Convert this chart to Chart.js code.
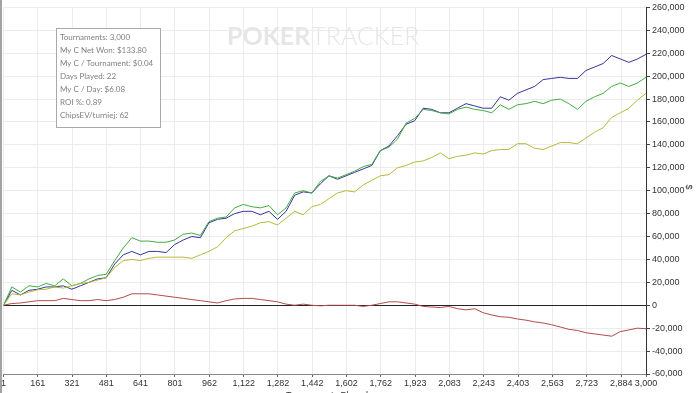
<!DOCTYPE html>
<html>
<head>
<meta charset="utf-8">
<script src="https://cdn.jsdelivr.net/npm/chart.js@4"></script>
<style>
  html, body { margin: 0; padding: 0; background: #fff; overflow: hidden; }
  #wrap { width: 700px; height: 393px; position: relative; }
</style>
</head>
<body>
<div id="wrap"><canvas id="graph"></canvas></div>
<script>
const tournaments = [1,40,80,120,160,200,240,280,320,360,400,440,480,520,560,600,640,680,720,760,
  800,840,880,920,960,1000,1040,1080,1120,1160,1200,1240,1280,1320,1360,1400,1440,1480,1520,1560,
  1600,1640,1680,1720,1760,1800,1840,1880,1920,1960,2000,2040,2080,2120,2160,2200,2240,2280,2320,2360,
  2400,2440,2480,2520,2560,2600,2640,2680,2720,2760,2800,2840,2880,2920,2960,3000];

// values in thousands
const netWon = [0,13,9,13,14,16,16,17,14,17,20,23,24,36,44,47,44,47,47,46,53,57,60,59,72,75,76,80,82,82,
  79,82,75,82,96,99,98,106,113,110,113,116,119,122,135,139,148,158,161,172,171,168,168,172,176,174,172,172,182,179,
  185,188,191,197,198,199,198,198,205,208,211,218,215,212,215,219];
const allInEv = [0,16,11.5,17,16,19,17,23,17,19,23,26,27,39,50,59,56,56,55,55,57,62,63,61,73,76,77,85,88,86,
  85,87,79,85,98,100,98,108,113,111,114,117,121,123,135,138,145,159,163,171,170,168,167,171,173,171,170,168,175,171,
  175,176,178,176,179,180,176,171,178,182,185,191,194,191,194,199];
const chipsEv = [0,10,9,11.5,13.5,14,16,15,17,19,20,22,24,33,39,40,39,41,42,42,42,42,41,44,47,51,59,65,67,69,
  72,73,70,76,82,79,86,88,93,98,100,99,105,109,113,114,120,122,125,126,129,133,128,130,131,133,132,135,136,136,
  141,141,137,136,139,142,142,141,146,151,155,164,168,172,179,185];
const diffLine = [0,1.5,2,3,4,4,4,6,5,4,4,5,4,5,7,10,10,10,9,8,7,6,5,4,3,2,4,5.5,6,6,
  5,4,3,1,0,1,0,-0.5,0,0,0,0,-1,0,1.5,3,3,2,1,-1,-1.5,-2,-1,-3,-4,-3,-6.5,-8.5,-10,-10.5,
  -12,-13,-14.5,-15.5,-17,-19,-21,-22,-24,-25,-26,-27,-23,-21.5,-20,-20.5];

const xTicks = [1,161,321,481,641,801,962,1122,1282,1442,1602,1762,1923,2083,2243,2403,2563,2723,2884,3000];
const yMin = -60000, yMax = 260000, yStep = 20000;

const statLines = [
  'Tournaments: 3,000',
  'My C Net Won: $133.80',
  'My C / Tournament: $0.04',
  'Days Played: 22',
  'My C / Day: $6.08',
  'ROI %: 0.89',
  'ChipsEV/turniej: 62'
];

function pts(vals) {
  return vals.map((v, i) => ({ x: tournaments[i], y: v * 1000 }));
}
function fmt(v) { return Number(v).toLocaleString('en-US'); }

const extras = {
  id: 'extras',
  beforeDraw(chart) {
    const c = chart.ctx;
    c.save();
    c.fillStyle = '#a3a3a3';
    c.fillRect(0, 0, 2, chart.height);
    c.restore();
  },
  beforeDatasetsDraw(chart) {
    // watermark
    const c = chart.ctx;
    c.save();
    c.fillStyle = '#e6e6e6';
    c.textBaseline = 'middle';
    c.font = 'bold 25px Lato';
    c.fillText('POKER', 227, 37);
    const w = c.measureText('POKER').width;
    c.font = '300 25px Lato';
    c.fillText('TRACKER', 227 + w + 1, 37);
    c.restore();
  },
  afterDraw(chart) {
    const c = chart.ctx;
    c.save();
    // stats box
    c.fillStyle = '#fff';
    c.fillRect(56, 28, 104, 99);
    c.strokeStyle = '#a9a9a9';
    c.lineWidth = 1;
    c.strokeRect(56.5, 28.5, 104, 99);
    c.fillStyle = '#808080';
    c.font = '8px Lato';
    c.textBaseline = 'middle';
    statLines.forEach((s, i) => c.fillText(s, 60, 37 + i * 13));
    // axis titles
    c.fillStyle = '#333';
    c.font = '9px "Liberation Sans"';
    c.textAlign = 'center';
    c.fillText('Tournaments Played', 327, 396);
    c.translate(688, 187);
    c.rotate(Math.PI / 2);
    c.fillText('$', 0, 0);
    c.restore();
  }
};

new Chart(document.getElementById('graph'), {
  type: 'line',
  data: {
    datasets: [
      { label: 'ChipsEV', data: pts(chipsEv), borderColor: '#b8b83e' },
      { label: 'All-in EV', data: pts(allInEv), borderColor: '#42ad42' },
      { label: 'Net Won', data: pts(netWon), borderColor: '#35359c' },
      { label: 'Difference', data: pts(diffLine), borderColor: '#b34a4a' }
    ]
  },
  options: {
    responsive: true,
    maintainAspectRatio: false,
    animation: false,
    layout: { padding: { left: 3, top: 3, right: 0, bottom: 0 } },
    elements: {
      line: { borderWidth: 1, tension: 0 },
      point: { radius: 0 }
    },
    plugins: { legend: { display: false }, tooltip: { enabled: false } },
    scales: {
      x: {
        type: 'linear',
        min: 1, max: 3000,
        afterBuildTicks: s => { s.ticks = xTicks.map(v => ({ value: v })); },
        afterFit: s => { s.height = 19; },
        ticks: { autoSkip: false, maxRotation: 0, color: '#333', font: { size: 9, family: 'Liberation Sans' }, padding: 1, callback: v => fmt(v) },
        grid: { color: '#ececec', tickColor: '#666', tickLength: 3 },
        border: { color: '#888' }
      },
      y: {
        position: 'right',
        min: yMin, max: yMax,
        afterFit: s => { s.width = 54; },
        ticks: { stepSize: yStep, color: '#333', font: { size: 9, family: 'Liberation Sans' }, padding: 2, callback: v => fmt(v) },
        grid: { color: ctx => ctx.tick && ctx.tick.value === 0 ? '#222' : '#ececec', tickColor: '#444', tickLength: 4 },
        border: { color: '#333' }
      }
    }
  },
  plugins: [extras]
});
</script>
</body>
</html>
